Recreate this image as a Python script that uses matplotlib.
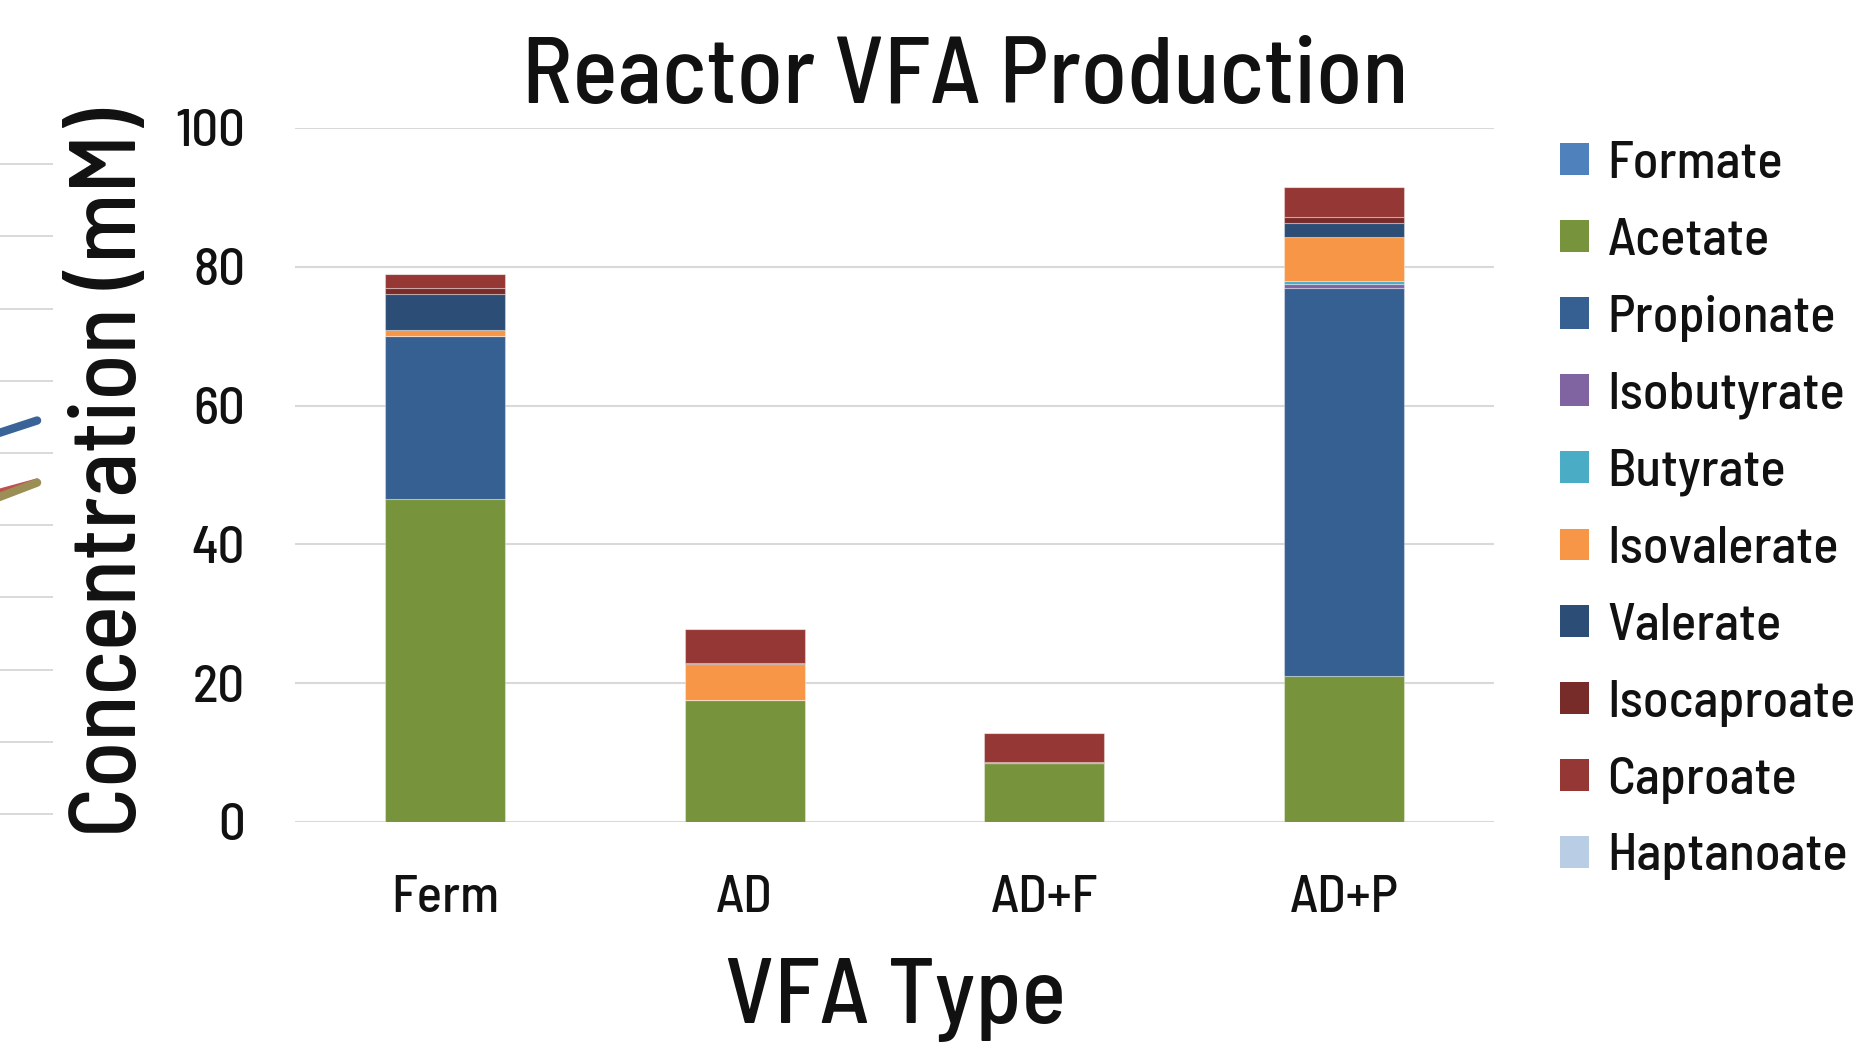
import matplotlib
matplotlib.use("Agg")
import matplotlib.pyplot as plt
from matplotlib.patches import Patch
import numpy as np

FONT = ["Barlow Semi Condensed", "DejaVu Sans"]
plt.rcParams["font.family"] = FONT
plt.rcParams["font.weight"] = 500

categories = ["Ferm", "AD", "AD+F", "AD+P"]
series_names = ["Formate", "Acetate", "Propionate", "Isobutyrate", "Butyrate",
                "Isovalerate", "Valerate", "Isocaproate", "Caproate", "Haptanoate"]
formate     = [0.0, 0.0, 0.0, 0.0]
acetate     = [46.5, 17.6, 8.5, 21.1]
propionate  = [23.5, 0.0, 0.0, 55.9]
isobutyrate = [0.0, 0.0, 0.0, 0.5]
butyrate    = [0.0, 0.0, 0.0, 0.4]
isovalerate = [0.85, 5.2, 0.0, 6.45]
valerate    = [5.25, 0.0, 0.0, 1.9]
isocaproate = [0.9, 0.15, 0.1, 0.9]
caproate    = [1.9, 4.9, 4.2, 4.3]
haptanoate  = [0.0, 0.0, 0.0, 0.0]
series_values = [formate, acetate, propionate, isobutyrate, butyrate,
                 isovalerate, valerate, isocaproate, caproate, haptanoate]
series_colors = ["#4F81BD", "#77933C", "#376092", "#8064A2", "#4BACC6",
                 "#F79646", "#2C4D75", "#772C2A", "#953735", "#B9CDE5"]
yticks = [0, 20, 40, 60, 80, 100]

# fragment of a neighbouring chart visible at the left edge
side_grid = list(range(10))
side_x = [-0.3, 0.70]
side_blue = [5.21, 5.45]
side_red = [4.42, 4.62]
side_olive = [4.31, 4.59]

W, H = 1874, 1043
fig = plt.figure(figsize=(W / 100, H / 100), dpi=100)

# left fragment
axs = fig.add_axes([0, 1 - 830 / H, 53 / W, 680 / H])
axs.set_xlim(0, 1)
axs.set_ylim((814 - 830) / 72.2, (814 - 150) / 72.2)
for g in side_grid:
    axs.axhline(g, color="#D9D9D9", lw=1.4, zorder=0)
axs.plot(side_x, side_red, color="#C0504D", lw=3, solid_capstyle="round", zorder=2)
axs.plot(side_x, side_olive, color="#9B8F55", lw=6, solid_capstyle="round", zorder=3)
axs.plot(side_x, side_blue, color="#3A6497", lw=6, solid_capstyle="round", zorder=3)
axs.axis("off")

# main chart
ax = fig.add_axes([295 / W, 1 - 822 / H, (1494 - 295) / W, (822 - 128) / H])
x = np.arange(len(categories))
bottom = np.zeros(len(categories))
for name, vals, col in zip(series_names, series_values, series_colors):
    v = np.array(vals, dtype=float)
    ax.bar(x, v, 0.4, bottom=bottom, color=col, edgecolor=(1, 1, 1, 0.35),
           linewidth=0.8, zorder=3, label=name)
    bottom += v

ax.set_xlim(-0.5, len(categories) - 0.5)
ax.set_ylim(0, 100)
ax.set_yticks(yticks)
ax.set_xticks(x)
ax.set_xticklabels(categories)
ax.grid(axis="y", color="#D9D9D9", lw=1.5, zorder=0)
ax.set_axisbelow(True)
for s in ax.spines.values():
    s.set_visible(False)
ax.tick_params(axis="both", length=0, labelsize=38, colors="#111111")
ax.tick_params(axis="y", pad=36)
ax.tick_params(axis="x", pad=38.5)

fig.text(965 / W, 1 - 103 / H, "Reactor VFA Production", ha="center", va="baseline",
         fontsize=68, color="#111111")
fig.text(896 / W, 1 - 1023 / H, "VFA Type", ha="center", va="baseline",
         fontsize=67, color="#111111")
fig.text(112 / W, 1 - 473 / H, "Concentration (mM)", ha="center", va="center",
         rotation=90, fontsize=68, color="#111111")

handles = [Patch(facecolor=c, edgecolor="none") for c in series_colors]
fig.legend(handles, series_names, loc="upper left",
           bbox_to_anchor=(1560 / W, 1 - 141 / H), frameon=False,
           fontsize=38, handlelength=0.55, handleheight=0.55,
           handletextpad=0.35, labelspacing=0.565, borderpad=0, borderaxespad=0,
           labelcolor="#111111")

fig.savefig("out.png", dpi=100)
